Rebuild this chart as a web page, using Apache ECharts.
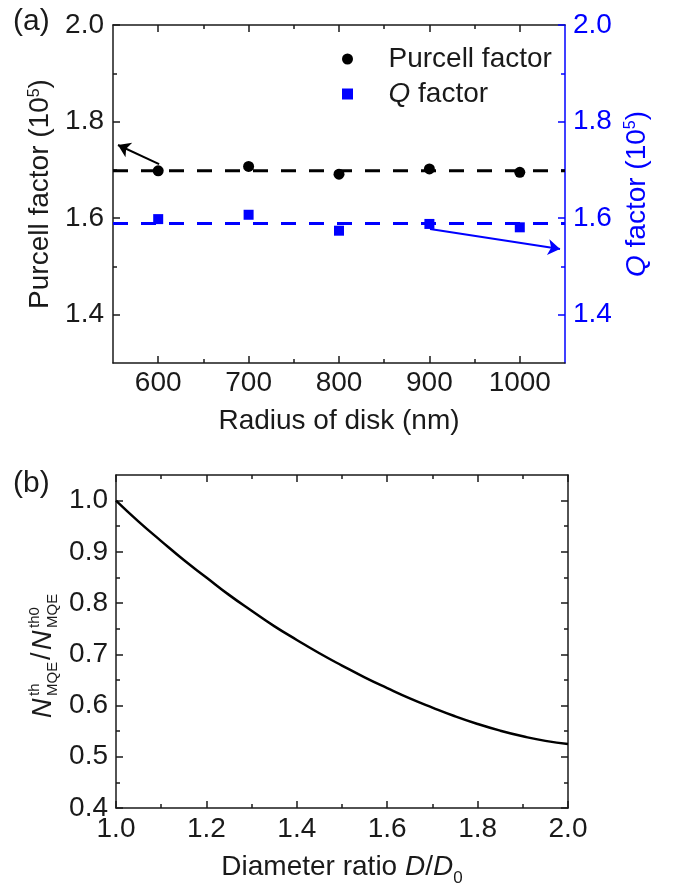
<!DOCTYPE html>
<html><head><meta charset="utf-8">
<script src="https://cdn.jsdelivr.net/npm/echarts@6/dist/echarts.min.js"></script>
<style>html,body{margin:0;padding:0;background:#fff}#c{width:675px;height:888px}</style>
</head><body><div id="c"></div>
<script>
// ---------- data: panel (a) ----------
const radius = [600, 700, 800, 900, 1000];
const purcell = [1.698, 1.707, 1.691, 1.702, 1.695];
const qFactor = [1.598, 1.607, 1.574, 1.588, 1.581];
const purcellMean = 1.698;
const qMean = 1.589;
const radiusRange = [550, 1050];
const radiusMajor = [600, 700, 800, 900, 1000];
const radiusMinor = [650, 750, 850, 950];
const factorRange = [1.3, 2.0];
const factorMajor = [1.4, 1.6, 1.8, 2.0];
const factorMinor = [1.5, 1.7, 1.9];
const arrowPurcell = [[601, 1.712], [555.5, 1.7515]];
const arrowQ = [[900.7, 1.5775], [1044.5, 1.536]];
// ---------- data: panel (b) ----------
const ratio = [1.00, 1.05, 1.10, 1.15, 1.20, 1.25, 1.30, 1.35, 1.40, 1.45, 1.50,
               1.55, 1.60, 1.65, 1.70, 1.75, 1.80, 1.85, 1.90, 1.95, 2.00];
const nRatio = [1.000, 0.959, 0.921, 0.884, 0.850, 0.816, 0.785, 0.755, 0.728, 0.702, 0.678,
                0.655, 0.634, 0.614, 0.596, 0.579, 0.564, 0.551, 0.540, 0.531, 0.525];
const ratioRange = [1.0, 2.0];
const nRange = [0.4, 1.05];
const nMajor = [0.4, 0.5, 0.6, 0.7, 0.8, 0.9, 1.0];
const nMinor = [0.45, 0.55, 0.65, 0.75, 0.85, 0.95];

const FONT = '"Liberation Sans", Arial, sans-serif';
const BLK = '#1a1a1a';
const BLUE = '#0000ff';
const FS = 28;

function tickAxis(o) {
  const color = o.color || BLK;
  const ax = {
    gridIndex: o.grid, type: 'value', position: o.position,
    min: o.range[0], max: o.range[1],
    axisLine: { show: !!o.line, onZero: false, lineStyle: { color: color, width: 1.5 } },
    axisTick: { show: true, inside: true, length: o.len, lineStyle: { color: color, width: 1.5 } },
    axisLabel: { show: false },
    splitLine: { show: false },
    minorTick: { show: false }
  };
  if (o.ticks) ax.axisTick.customValues = o.ticks;
  if (o.interval) { ax.interval = o.interval; }
  if (o.minor) ax.minorTick = { show: true, splitNumber: 2, length: 4, lineStyle: { color: color, width: 1.5 } };
  if (o.labels) {
    ax.axisLabel = { show: true, fontSize: FS, fontFamily: FONT, color: color, margin: o.margin,
      formatter: o.fmt };
    if (o.labelValues) ax.axisLabel.customValues = o.labelValues;
  }
  if (o.name) {
    ax.name = o.name; ax.nameLocation = 'middle'; ax.nameGap = o.nameGap;
    if (o.nameRotate != null) ax.nameRotate = o.nameRotate;
    ax.nameTextStyle = Object.assign({ fontSize: FS, fontFamily: FONT, color: color }, o.nameStyle || {});
  }
  return ax;
}

const fmt1 = v => v.toFixed(1);
const fmt0 = v => String(Math.round(v));

const xAxes = [
  tickAxis({ grid: 0, position: 'bottom', range: radiusRange, line: true, len: 7, ticks: radiusMajor,
    labels: true, labelValues: radiusMajor, margin: 6, fmt: fmt0,
    name: 'Radius of disk (nm)', nameGap: 44 }),
  tickAxis({ grid: 0, position: 'bottom', range: radiusRange, len: 4, ticks: radiusMinor }),
  tickAxis({ grid: 0, position: 'top', range: radiusRange, line: true, len: 7, ticks: radiusMajor }),
  tickAxis({ grid: 0, position: 'top', range: radiusRange, len: 4, ticks: radiusMinor }),
  tickAxis({ grid: 1, position: 'bottom', range: ratioRange, line: true, len: 7, interval: 0.2, minor: true,
    labels: true, margin: 7, fmt: fmt1,
    name: 'Diameter ratio {i|D}/{i|D}{sub|0}', nameGap: 40,
    nameStyle: { rich: {
      i: { fontSize: FS, fontFamily: FONT, fontStyle: 'italic', color: BLK },
      sub: { fontSize: 17, fontFamily: FONT, color: BLK, verticalAlign: 'bottom', padding: [22, 0, 0, 0] }
    } } }),
  tickAxis({ grid: 1, position: 'top', range: ratioRange, line: true, len: 7, interval: 0.2, minor: true })
];

const yAxes = [
  tickAxis({ grid: 0, position: 'left', range: factorRange, line: true, len: 7, ticks: factorMajor,
    labels: true, labelValues: factorMajor, margin: 9, fmt: fmt1,
    name: 'Purcell factor (10{sup|5})', nameGap: 55, nameRotate: 90,
    nameStyle: { rich: { sup: { fontSize: 16, fontFamily: FONT, color: BLK, verticalAlign: 'top' } } } }),
  tickAxis({ grid: 0, position: 'left', range: factorRange, len: 4, ticks: factorMinor }),
  tickAxis({ grid: 0, position: 'right', range: factorRange, line: true, len: 7, ticks: factorMajor, color: BLUE,
    labels: true, labelValues: factorMajor, margin: 8, fmt: fmt1,
    name: '{i|Q} factor (10{sup|5})', nameGap: 58, nameRotate: 90,
    nameStyle: { rich: {
      i: { fontSize: FS, fontFamily: FONT, fontStyle: 'italic', color: BLUE },
      sup: { fontSize: 16, fontFamily: FONT, color: BLUE, verticalAlign: 'top' } } } }),
  tickAxis({ grid: 0, position: 'right', range: factorRange, len: 4, ticks: factorMinor, color: BLUE }),
  tickAxis({ grid: 1, position: 'left', range: nRange, line: true, len: 7, ticks: nMajor,
    labels: true, labelValues: nMajor, margin: 8, fmt: fmt1 }),
  tickAxis({ grid: 1, position: 'left', range: nRange, len: 4, ticks: nMinor }),
  tickAxis({ grid: 1, position: 'right', range: nRange, line: true, len: 7, ticks: nMajor }),
  tickAxis({ grid: 1, position: 'right', range: nRange, len: 4, ticks: nMinor })
];

const arrowLine = (pts, color) => ({
  silent: true, symbol: ['none', 'arrow'], symbolSize: 12, animation: false,
  label: { show: false }, emphasis: { disabled: true },
  lineStyle: { color: color, width: 2, type: 'solid' },
  data: [[{ coord: pts[0] }, { coord: pts[1] }]]
});

const option = {
  animation: false,
  backgroundColor: '#fff',
  grid: [
    { left: 113, top: 25, width: 452, height: 338, containLabel: false },
    { left: 116, top: 475, width: 452, height: 336, containLabel: false }
  ],
  xAxis: xAxes,
  yAxis: yAxes,
  legend: {
    left: 337, top: 40, orient: 'vertical', itemGap: 7,
    itemWidth: 72, itemHeight: 11, selectedMode: false,
    textStyle: { fontSize: FS, fontFamily: FONT, color: BLK,
      rich: { i: { fontSize: FS, fontFamily: FONT, fontStyle: 'italic', color: BLK } } },
    formatter: n => n === 'Q factor' ? '{i|Q} factor' : n,
    data: [
      { name: 'Purcell factor', icon: 'circle' },
      { name: 'Q factor', icon: 'path://M0,0H10V10H0Z' }
    ]
  },
  series: [
    { name: 'Purcell mean', type: 'line', xAxisIndex: 0, yAxisIndex: 0, silent: true,
      data: [[radiusRange[0], purcellMean], [radiusRange[1], purcellMean]], symbol: 'none',
      lineStyle: { color: '#000', width: 3, type: [15, 13] }, markLine: arrowLine(arrowPurcell, '#000') },
    { name: 'Q mean', type: 'line', xAxisIndex: 0, yAxisIndex: 2, silent: true,
      data: [[radiusRange[0], qMean], [radiusRange[1], qMean]], symbol: 'none',
      lineStyle: { color: BLUE, width: 3, type: [15, 13] }, markLine: arrowLine(arrowQ, BLUE) },
    { name: 'Purcell factor', type: 'scatter', xAxisIndex: 0, yAxisIndex: 0,
      data: radius.map((r, i) => [r, purcell[i]]), symbol: 'circle', symbolSize: 11,
      itemStyle: { color: '#000', opacity: 1 }, z: 5 },
    { name: 'Q factor', type: 'scatter', xAxisIndex: 0, yAxisIndex: 2,
      data: radius.map((r, i) => [r, qFactor[i]]), symbol: 'rect', symbolSize: 10,
      itemStyle: { color: BLUE, opacity: 1 }, z: 5 },
    { name: 'ratio', type: 'line', xAxisIndex: 4, yAxisIndex: 4, silent: true,
      data: ratio.map((r, i) => [r, nRatio[i]]), symbol: 'none', smooth: true,
      lineStyle: { color: '#000', width: 2.5 } }
  ],
  graphic: [
    { type: 'text', left: 13, top: 7, style: { text: '(a)', fontSize: 30, fontFamily: FONT, fill: BLK } },
    { type: 'text', left: 13, top: 469, style: { text: '(b)', fontSize: 30, fontFamily: FONT, fill: BLK } },
    { type: 'group', x: 43, y: 651, rotation: Math.PI / 2, children: [
      { type: 'text', x: -67, y: 0, style: { text: 'N', font: 'italic 27px ' + FONT, fill: BLK, align: 'left', verticalAlign: 'middle' } },
      { type: 'text', x: -45, y: -8, style: { text: 'th', font: '15px ' + FONT, fill: BLK, align: 'left', verticalAlign: 'middle' } },
      { type: 'text', x: -45, y: 10, style: { text: 'MQE', font: '15px ' + FONT, fill: BLK, align: 'left', verticalAlign: 'middle' } },
      { type: 'text', x: -9, y: 0, style: { text: '/', font: '27px ' + FONT, fill: BLK, align: 'left', verticalAlign: 'middle' } },
      { type: 'text', x: 1, y: 0, style: { text: 'N', font: 'italic 27px ' + FONT, fill: BLK, align: 'left', verticalAlign: 'middle' } },
      { type: 'text', x: 23, y: -8, style: { text: 'th0', font: '15px ' + FONT, fill: BLK, align: 'left', verticalAlign: 'middle' } },
      { type: 'text', x: 23, y: 10, style: { text: 'MQE', font: '15px ' + FONT, fill: BLK, align: 'left', verticalAlign: 'middle' } }
    ] }
  ]
};

const chart = echarts.init(document.getElementById('c'), null, { renderer: 'canvas' });
chart.setOption(option);
</script>
</body></html>
